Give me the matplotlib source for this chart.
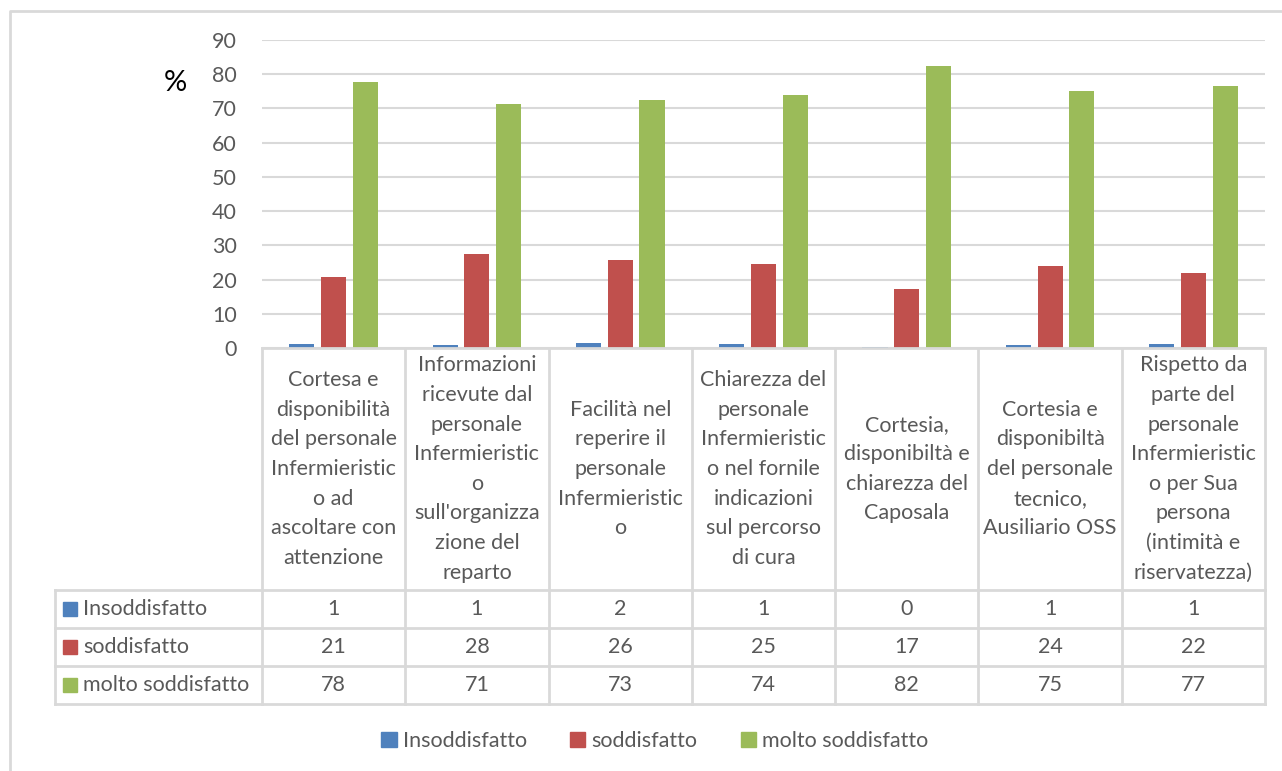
import matplotlib.pyplot as plt
import numpy as np
from matplotlib.patches import Rectangle

plt.rcParams['font.family'] = ['Lato', 'DejaVu Sans']

categories = [
    'Cortesa e\ndisponibilità\ndel personale\nInfermieristic\no ad\nascoltare con\nattenzione',
    'Informazioni\nricevute dal\npersonale\nInfermieristic\no\nsull\'organizza\nzione del\nreparto',
    'Facilità nel\nreperire il\npersonale\nInfermieristic\no',
    'Chiarezza del\npersonale\nInfermieristic\no nel fornile\nindicazioni\nsul percorso\ndi cura',
    'Cortesia,\ndisponibiltà e\nchiarezza del\nCaposala',
    'Cortesia e\ndisponibiltà\ndel personale\ntecnico,\nAusiliario OSS',
    'Rispetto da\nparte del\npersonale\nInfermieristic\no per Sua\npersona\n(intimità e\nriservatezza)',
]
insoddisfatto = [1.2, 0.9, 1.6, 1.2, 0.4, 0.9, 1.2]
soddisfatto = [20.7, 27.6, 25.8, 24.6, 17.2, 24.0, 21.8]
molto_soddisfatto = [77.8, 71.2, 72.6, 73.9, 82.3, 75.0, 76.6]

series = [
    ('Insoddisfatto', insoddisfatto, '#4F81BD'),
    ('soddisfatto', soddisfatto, '#C0504D'),
    ('molto soddisfatto', molto_soddisfatto, '#9BBB59'),
]

W, H = 1282, 771
text_col = '#595959'
line_col = '#d9d9d9'
fs = 15.5

fig = plt.figure(figsize=(W / 100, H / 100), dpi=100)

# pixel layout of plot area and data table
px_left, px_right = 262, 1265
px_top, px_zero = 40, 348
tab_left, tab_bottom = 55, 704
row_edges = [590, 628, 666, 704]

ax = fig.add_axes([px_left / W, 1 - px_zero / H,
                   (px_right - px_left) / W, (px_zero - px_top) / H])
x = np.arange(len(categories))
width = 0.175
offsets = [-0.222, 0, 0.222]
for (name, vals, col), off in zip(series, offsets):
    ax.bar(x + off, vals, width, color=col, zorder=3)
ax.set_xlim(-0.5, len(categories) - 0.5)
ax.set_ylim(0, 90)
ax.set_yticks(range(0, 91, 10))
ax.yaxis.grid(True, color=line_col, linewidth=1.5, zorder=0)
ax.tick_params(axis='y', length=0, labelsize=fs, labelcolor=text_col, pad=18)
ax.tick_params(axis='x', length=0, labelbottom=False)
for s in ax.spines.values():
    s.set_visible(False)

# overlay in pixel coordinates for the data table, legend and border
ov = fig.add_axes([0, 0, 1, 1])
ov.set_xlim(0, W)
ov.set_ylim(H, 0)
ov.axis('off')
ov.patch.set_alpha(0)

ov.plot([10, 10, W + 5], [H + 5, 11, 11], color=line_col, lw=2)
ov.text(175, 83, '%', fontsize=21, color='black', ha='center', va='center')

n = len(categories)
col_w = (px_right - px_left) / n
col_edges = [px_left + i * col_w for i in range(n + 1)]

lw = 2
ov.plot([px_left, px_right], [px_zero, px_zero], color=line_col, lw=lw)
for y in row_edges:
    ov.plot([tab_left, px_right], [y, y], color=line_col, lw=lw)
for xe in col_edges:
    ov.plot([xe, xe], [px_zero, tab_bottom], color=line_col, lw=lw)
ov.plot([tab_left, tab_left], [row_edges[0], tab_bottom], color=line_col, lw=lw)

for i, cat in enumerate(categories):
    cx = (col_edges[i] + col_edges[i + 1]) / 2
    ov.text(cx, (px_zero + row_edges[0]) / 2, cat, ha='center', va='center',
            fontsize=fs, color=text_col, linespacing=1.6)

for r, (name, vals, col) in enumerate(series):
    cy = (row_edges[r] + row_edges[r + 1]) / 2
    ov.add_patch(Rectangle((tab_left + 8, cy - 7), 14, 14, color=col))
    ov.text(tab_left + 28, cy, name, ha='left', va='center',
            fontsize=fs, color=text_col)
    for i, v in enumerate(vals):
        cx = (col_edges[i] + col_edges[i + 1]) / 2
        ov.text(cx, cy, '{:.0f}'.format(v), ha='center', va='center',
                fontsize=fs, color=text_col)

# legend below the table
handles = [Rectangle((0, 0), 1, 1, color=col) for _, _, col in series]
fig.legend(handles, [s[0] for s in series], loc='center',
           bbox_to_anchor=(655 / W, 1 - 741 / H), ncol=3, frameon=False,
           fontsize=fs, labelcolor=text_col, handlelength=0.7,
           handleheight=0.7, handletextpad=0.3, columnspacing=2.0)

fig.savefig('out.png', dpi=100)
